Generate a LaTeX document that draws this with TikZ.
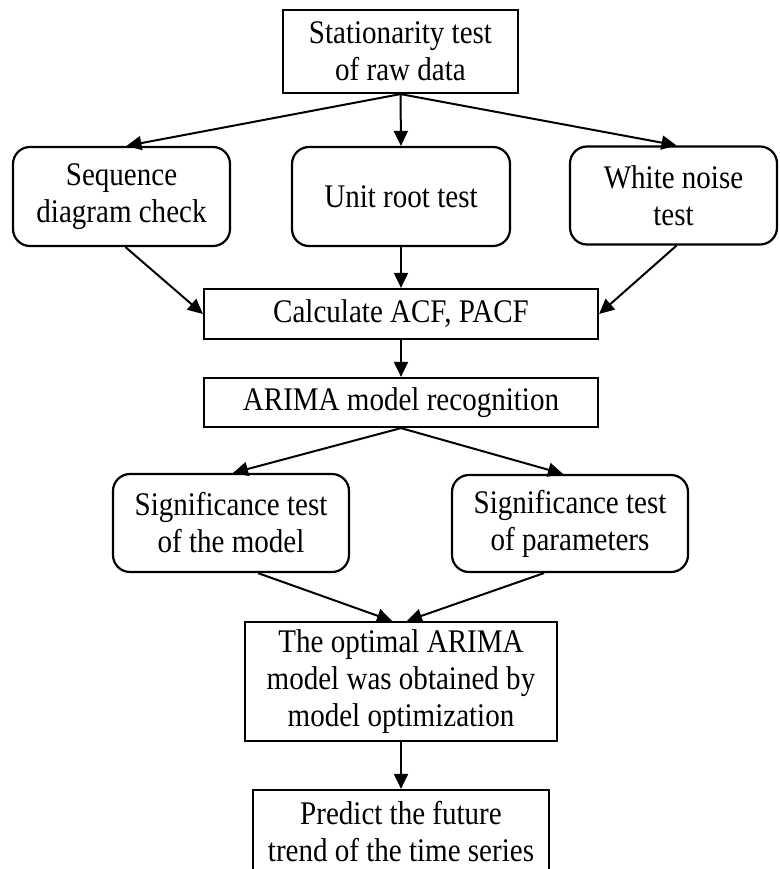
\documentclass[tikz,border=0pt]{standalone}
\usepackage{fontspec}
\setmainfont{Liberation Serif}[FakeStretch=0.88]
\usetikzlibrary{arrows.meta}
\begin{document}
\begin{tikzpicture}[x=1pt,y=-1pt,
  base/.style={draw, line width=2.2pt, inner sep=0pt, align=center, font=\fontsize{33}{37}\selectfont},
  sq/.style={base, rectangle},
  rd/.style={base, rectangle, rounded corners=17pt},
  arr/.style={line width=2pt, -{Triangle[length=15pt,width=14pt]}}]
\useasboundingbox (0,0) rectangle (779,869);
\clip (0,0) rectangle (779,869);
\node[sq, minimum width=235pt, minimum height=83pt] (top) at (400.5,51.5) {Stationarity test\\of raw data};
\node[rd, minimum width=217pt, minimum height=99pt] (seq) at (121.5,196.5) {Sequence\\diagram check};
\node[rd, minimum width=218pt, minimum height=99pt] (unit) at (401,196.5) {Unit root test};
\node[rd, minimum width=207pt, minimum height=98pt] (wn) at (673.5,195.5) {White noise\\test};
\node[sq, minimum width=394pt, minimum height=50pt] (calc) at (401,314) {Calculate ACF, PACF};
\node[sq, minimum width=394pt, minimum height=49pt] (arima) at (401,402.5) {ARIMA model recognition};
\node[rd, minimum width=236pt, minimum height=98pt] (sigl) at (231,523) {Significance test\\of the model};
\node[rd, minimum width=236pt, minimum height=97pt] (sigr) at (570,523.5) {Significance test\\of parameters};
\node[sq, minimum width=312pt, minimum height=119pt] (opt) at (401,681.5) {The optimal ARIMA\\model was obtained by\\model optimization};
\node[sq, minimum width=296pt, minimum height=84pt] (pred) at (401,832) {Predict the future\\trend of the time series};
\draw[arr] (top.south) -- ([xshift=5pt]seq.north);
\draw[arr] (top.south) -- (unit.north);
\draw[arr] (top.south) -- ([xshift=3pt]wn.north);
\draw[arr] ([xshift=4pt]seq.south) -- (calc.west);
\draw[arr] (unit.south) -- (calc.north);
\draw[arr] ([xshift=3pt]wn.south) -- (calc.east);
\draw[arr] (calc.south) -- (arima.north);
\draw[arr] (arima.south) -- ([xshift=2pt]sigl.north);
\draw[arr] (arima.south) -- ([xshift=-7pt]sigr.north);
\draw[arr] ([xshift=27pt]sigl.south) -- ([xshift=-9pt]opt.north);
\draw[arr] ([xshift=-26pt]sigr.south) -- ([xshift=6pt]opt.north);
\draw[arr] (opt.south) -- (pred.north);
\end{tikzpicture}
\end{document}
